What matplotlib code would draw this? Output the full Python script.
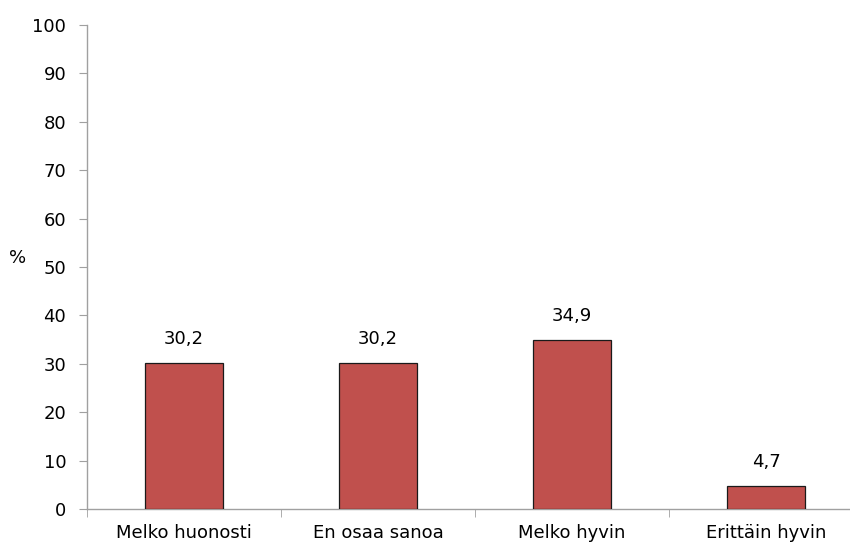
import matplotlib.pyplot as plt
import numpy as np

categories = ['Melko huonosti', 'En osaa sanoa', 'Melko hyvin', 'Erittäin hyvin']
values = [30.2, 30.2, 34.9, 4.7]
value_labels = ['30,2', '30,2', '34,9', '4,7']
yticks = list(range(0, 101, 10))

plt.rcParams['font.family'] = ['DejaVu Sans']

fig = plt.figure(figsize=(8.5, 5.47), dpi=100)
ax = fig.add_axes([87 / 850, 1 - 509 / 547, 776 / 850, 484 / 547])

x = np.arange(len(categories))
ax.bar(x, values, width=0.4, color='#C0504D', edgecolor='#1a1a1a', linewidth=0.9, zorder=3)

for xi, v, lab in zip(x, values, value_labels):
    ax.annotate(lab, (xi, v), xytext=(0, 11), textcoords='offset points',
                ha='center', va='bottom', fontsize=13, color='black')

ax.set_xlim(-0.5, len(categories) - 0.5)
ax.set_ylim(0, 100)
ax.set_yticks(yticks)
ax.set_yticklabels([str(t) for t in yticks], fontsize=13)
ax.set_xticks(x)
ax.set_xticklabels(categories, fontsize=13)
ax.set_xticks(np.arange(-0.5, len(categories), 1.0), minor=True)

ax.tick_params(axis='x', which='major', length=0, pad=11)
ax.tick_params(axis='x', which='minor', length=6, color='#a0a0a0', direction='out')
ax.tick_params(axis='y', length=6, color='#a0a0a0', pad=9)

for s in ['top', 'right']:
    ax.spines[s].set_visible(False)
for s in ['left', 'bottom']:
    ax.spines[s].set_color('#a0a0a0')
    ax.spines[s].set_linewidth(1.0)

ax.set_ylabel('%', rotation=0, fontsize=13, labelpad=0)
ax.yaxis.set_label_coords(-0.09, 0.5)

fig.savefig('out.png', dpi=100)
